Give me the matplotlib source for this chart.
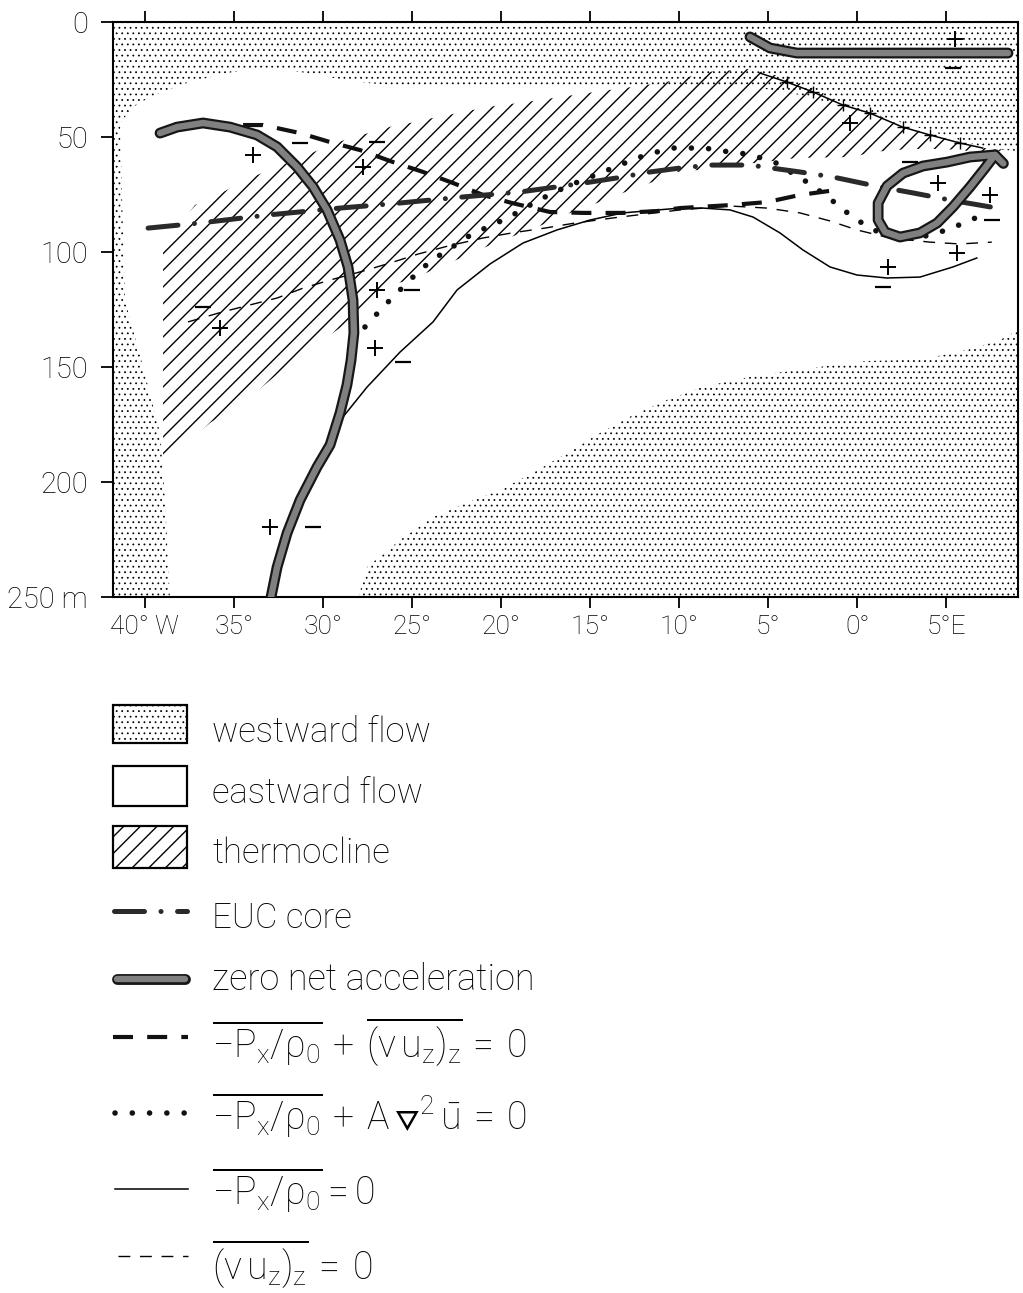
import numpy as np
import matplotlib
matplotlib.use("Agg")
import matplotlib.pyplot as plt
from matplotlib.patches import Polygon, Rectangle

plt.rcParams['font.family'] = ['Roboto', 'DejaVu Sans']
plt.rcParams['font.weight'] = 'light'
plt.rcParams['mathtext.fontset'] = 'custom'
plt.rcParams['mathtext.rm'] = 'Roboto:light'
plt.rcParams['mathtext.it'] = 'Roboto:light'
plt.rcParams['mathtext.sf'] = 'STIXGeneral'
plt.rcParams['mathtext.default'] = 'regular'
plt.rcParams['mathtext.fallback'] = 'stixsans'
plt.rcParams['hatch.linewidth'] = 1.0
plt.rcParams['hatch.color'] = 'black'

# axis ticks
x_ticks = [-40, -35, -30, -25, -20, -15, -10, -5, 0, 5]
x_labels = ["40° W", "35°", "30°", "25°", "20°", "15°", "10°", "5°", "0°", "5°E"]
y_ticks = [0, 50, 100, 150, 200, 250]
y_labels = ["0", "50", "100", "150", "200", "250 m"]

# westward flow, upper band + western strip (lon in deg, west negative; depth in m)
west_up_lon = [-42, 9.5, 9.5, 7.16, 5.2, 2.39, -0.41, -3.22, -5.46, -8.83, -14.44,
               -18.93, -23.81, -25.66, -27.51, -29.42, -31.27, -33.13, -35.03, -36.49,
               -37.62, -38.74, -39.69, -40.65, -41.37, -41.26, -41.1, -40.08, -39.13,
               -38.85, -38.57, -42]
west_up_dep = [-2, -2, 56.5, 54.8, 50.0, 43.5, 37.4, 31.7, 28.7, 28.7, 28.7,
               28.7, 28.3, 27.8, 26.5, 24.3, 21.7, 20.0, 21.7, 24.3,
               26.5, 29.6, 32.6, 37.0, 43.9, 77.4, 121, 150, 178.7,
               207.8, 252, 252]

# westward flow, deep eastern part
west_lo_lon = [-28.07, -27.51, -25.66, -23.81, -21.9, -20.05, -18.2, -16.29, -14.44,
               -12.59, -10.68, -8.83, -6.98, -5.07, -3.22, -1.37, 0.54, 2.39, 4.24,
               6.15, 8.0, 9.5, 9.5]
west_lo_dep = [252, 237, 225.2, 215.2, 209, 203.5, 196, 187.4, 178.7,
               170.9, 164.3, 159.1, 155.7, 153, 151.3, 149.1, 147.4, 147, 145.7,
               142.6, 138.3, 132, 252]

# thermocline
thermo_lon = [-38.96, -38.96, -37.17, -35.59, -34.08, -32.56, -31.27, -29.98, -28.47,
              -27.18, -26.05, -24.82, -23.59, -22.41, -21.29, -20.05, -18.93, -16.68,
              -14.33, -12.19, -10.06, -8.44, -6.02, -4.17, -2.65, -0.8, 0.71, 2.56,
              4.08, 5.76, 7.16, 8.56,
              7.05, 4.81, 2.96, 0.88, -0.24, -3.39, -5.63, -7.71, -8.83, -10.12,
              -11.63, -13.15, -14.61, -15.73, -17.41, -20.61, -22.13, -23.59, -25.1,
              -26.22, -27.18, -29.03, -31.39, -34.08, -36.32]
thermo_dep = [191.7, 97.0, 79.6, 73.9, 67.8, 63.0, 59.1, 54.8, 50.4,
              47.8, 45.2, 43.5, 41.3, 39.6, 37.8, 36.1, 35.2, 32.6,
              30.0, 27.8, 25.2, 21.7, 20.4, 23.9, 28.3, 35.2, 39.1, 45.2,
              48.7, 52.2, 54.8, 55.7,
              56.5, 55.2, 55.2, 56.5, 58.7, 59.1, 61.3, 61.7, 64.3, 65.2,
              70.0, 74.3, 78.7, 81.7, 87.4, 97.0, 102.2, 107.0, 112.2,
              114.3, 122.2, 133.0, 145.7, 163.0, 174.3]

# zero net acceleration
zna_west_lon = [-39.13, -38.18, -36.72, -35.2, -33.69, -32.56, -31.44, -30.54, -29.76,
                -29.03, -28.58, -28.3, -28.25, -28.41, -28.64, -29.03, -29.59, -30.32,
                -31.27, -32.0, -32.56, -32.9]
zna_west_dep = [48.3, 45.7, 43.9, 45.7, 49.1, 54.3, 63.0, 71.7, 81.7,
                94.8, 106.5, 120.9, 135.2, 147.0, 157.8, 170.0, 183.9, 193.5,
                207.8, 222.2, 237.0, 250]
zna_top_lon = [-6.02, -4.9, -3.39, -1.14, 2.56, 8.46]
zna_top_dep = [6.5, 11.3, 13.5, 13.5, 13.5, 13.5]
zna_loop_lon = [7.73, 6.33, 5.04, 3.69, 2.57, 1.67, 1.17, 1.17, 1.56, 2.4, 3.52, 4.48,
                5.37, 6.33, 7.17, 7.73, 8.2]
zna_loop_dep = [57.8, 58.7, 60.9, 62.6, 65.7, 71.3, 78.7, 86.1, 91.3, 93.5, 91.7, 87.4,
                80.4, 71.7, 63.5, 57.8, 61.5]

# EUC core
euc_lon = [-39.8, -36.89, -33.07, -29.03, -26.22, -22.18, -18.93, -15.67, -13.49,
           -11.63, -9.95, -8.27, -6.02, -3.22, -1.37, 1.27, 3.12, 5.2, 7.84]
euc_dep = [89.6, 87.4, 83.9, 80.9, 79.1, 76.1, 73.9, 70.4, 67.8,
           65.2, 63.5, 62.2, 62.2, 65.2, 67.4, 71.7, 74.3, 77.4, 80.9]

# -Px/rho0 + (nu u_z)_z = 0
pv_lon = [-34.47, -33.35, -31.27, -29.59, -27.9, -26.05, -24.37, -22.69, -21.0,
          -19.38, -17.25, -15.39, -13.15, -11.24, -9.95, -7.14, -5.07, -3.22, -1.14]
pv_dep = [44.8, 44.8, 48.3, 52.2, 55.7, 60.9, 65.2, 70.0, 75.2,
          78.7, 82.6, 83.0, 83.0, 82.2, 80.9, 79.6, 78.3, 75.2, 73.0]

# -Px/rho0 + A lap u = 0
ph_lon = [-27.63, -27.07, -26.39, -25.66, -24.99, -24.26, -23.42, -22.46, -21.62,
          -20.72, -19.77, -18.93, -17.97, -17.19, -16.24, -14.27, -13.32, -12.36,
          -11.24, -10.34, -9.39, -8.55, -7.54, -6.53, -5.57, -4.56, -3.95, -2.54,
          -1.08, -0.41, 0.27, 1.56, 3.24, 5.04, 6.38, 7.45]
ph_dep = [132.6, 127.8, 122.2, 116.5, 111.3, 106.1, 101.3, 96.5, 92.2,
          89.1, 85.7, 82.2, 77.8, 74.8, 71.3, 65.2, 62.2, 59.1,
          56.5, 54.8, 54.8, 54.8, 56.1, 57.0, 58.7, 61.3, 64.3, 70.9,
          79.6, 83.9, 87.4, 93.0, 94.3, 90.4, 86.1, 82.2]

# -Px/rho0 = 0 (lower branch and upper branch)
p_lon = [-28.86, -27.51, -25.66, -23.81, -22.46, -20.61, -18.76, -16.85, -15.0,
         -13.15, -9.95, -8.66, -7.14, -5.85, -4.34, -3.05, -1.53, -0.02, 1.66,
         3.52, 5.37, 6.71]
p_dep = [171.7, 158.7, 143.5, 130.4, 116.5, 105.2, 96.1, 90.4, 86.1,
         83.0, 80.9, 80.9, 81.7, 84.8, 91.7, 99.1, 106.5, 110.0, 111.3,
         110.9, 106.5, 102.6]
p_top_lon = [-5.46, -3.95, -2.49, -0.81, 0.7, 2.55, 4.07, 5.75, 7.04]
p_top_dep = [22.2, 26.1, 30.4, 36.1, 39.6, 45.7, 49.1, 52.6, 54.8]

# (nu u_z)_z = 0
v_lon = [-37.56, -35.65, -34.08, -32.56, -31.1, -29.59, -27.74, -26.22, -24.65,
         -22.97, -21.0, -19.38, -17.53, -15.84, -13.32, -9.95, -7.14, -5.07, -3.22,
         -1.53, -0.02, 1.83, 4.07, 5.75, 7.55]
v_dep = [130.4, 126.1, 123.0, 120.0, 115.7, 112.2, 108.3, 104.8, 100.9,
         97.4, 93.9, 91.7, 89.6, 87.4, 84.8, 81.7, 80.0, 80.9, 83.0,
         86.5, 90.4, 93.9, 95.7, 96.5, 95.7]

# sign annotations
plus_lon = [-33.91, -35.76, -27.74, -26.95, -27.07, -32.96, 5.48, -0.41, 4.53, 7.45, 5.6, 1.72]
plus_dep = [57.8, 133.0, 63.0, 116.5, 141.7, 219.6, 7.4, 43.9, 70.0, 75.2, 100.4, 106.5]
minus_lon = [-31.27, -26.95, -36.72, -24.99, -25.49, -30.54, 5.37, 2.96, 7.56, 1.44]
minus_dep = [52.6, 52.2, 123.9, 116.5, 147.8, 219.6, 20.0, 60.9, 86.1, 115.2]


def zero_acc(ax, x, y, z=6):
    ax.plot(x, y, color='#161616', lw=7.8, solid_capstyle='round',
            solid_joinstyle='round', zorder=z)
    ax.plot(x, y, color='#808080', lw=4.6, solid_capstyle='round',
            solid_joinstyle='round', zorder=z + 0.1)


def stipple(ax, xy):
    # fine stipple: small hatch linewidth only for these patches
    with plt.rc_context({'hatch.linewidth': 0.55}):
        p = Polygon(xy, closed=True, facecolor='white', edgecolor='black',
                    lw=0, hatch='...', zorder=1)
    try:
        p.set_hatch_linewidth(0.55)
    except AttributeError:
        pass
    ax.add_patch(p)
    return p


EUC_STYLE = dict(color='#2a2a2a', lw=3.6, linestyle=(0, (6, 3.3, 0.01, 3.3)),
                 dash_capstyle='round')
PV_STYLE = dict(color='#111111', lw=3.0, linestyle=(0, (4.8, 3.4)), dash_capstyle='butt')
PH_STYLE = dict(color='#111111', lw=4.0, linestyle=(0, (0.01, 3.1)), dash_capstyle='round')
P_STYLE = dict(color='black', lw=1.1)
V_STYLE = dict(color='black', lw=1.0, linestyle=(0, (8.5, 7)))

fig = plt.figure(figsize=(10.23, 12.93), dpi=100)
ax = fig.add_axes([0.11046, 0.53828, 0.88465, 0.44470])

stipple(ax, np.column_stack([west_up_lon, west_up_dep]))
stipple(ax, np.column_stack([west_lo_lon, west_lo_dep]))
ax.add_patch(Polygon(np.column_stack([thermo_lon, thermo_dep]), closed=True,
                     facecolor='none', edgecolor='black', lw=0, hatch='//', zorder=2))

ax.plot(p_lon, p_dep, zorder=3, **P_STYLE)
ax.plot(p_top_lon, p_top_dep, marker='+', ms=8, mew=1.0, markevery=slice(1, -1),
        zorder=3, **P_STYLE)
ax.plot(v_lon, v_dep, zorder=3, **V_STYLE)
ax.plot(pv_lon, pv_dep, zorder=4, **PV_STYLE)
ax.plot(ph_lon, ph_dep, zorder=4, **PH_STYLE)
ax.plot(euc_lon, euc_dep, zorder=5, **EUC_STYLE)

zero_acc(ax, zna_west_lon, zna_west_dep)
zero_acc(ax, zna_top_lon, zna_top_dep)
zero_acc(ax, zna_loop_lon, zna_loop_dep)

ax.plot(plus_lon, plus_dep, linestyle='none', marker='+', ms=11, mew=1.4,
        color='black', zorder=7)
ax.plot(minus_lon, minus_dep, linestyle='none', marker='_', ms=11, mew=1.6,
        color='black', zorder=7)

ax.set_xlim(-41.77, 9.02)
ax.set_ylim(250, 0)
ax.set_xticks(x_ticks)
ax.set_xticklabels(x_labels)
ax.set_yticks(y_ticks)
ax.set_yticklabels(y_labels)
ax.tick_params(axis='x', which='major', top=True, bottom=True, direction='out',
               length=8, width=1.3, labelsize=19, pad=5)
ax.tick_params(axis='y', which='major', left=True, right=False, direction='out',
               length=9, width=1.3, labelsize=21, pad=9)
for sp in ax.spines.values():
    sp.set_linewidth(1.5)

# legend drawn in pixel coordinates
lax = fig.add_axes([0, 0, 1, 1])
lax.set_xlim(0, 1023)
lax.set_ylim(1293, 0)
lax.axis('off')

stipple(lax, [(113, 705), (187, 705), (187, 743), (113, 743)])
lax.add_patch(Rectangle((113, 705), 74, 38, facecolor='none', edgecolor='black', lw=1.6))
lax.add_patch(Rectangle((113, 766), 74, 40, facecolor='white', edgecolor='black', lw=1.6))
lax.add_patch(Rectangle((113, 826), 74, 42, facecolor='white', edgecolor='black',
                        lw=1.6, hatch='//'))
lax.plot([114, 187], [911, 911], **EUC_STYLE)
zero_acc(lax, [117, 185], [979, 979])
lax.plot([113, 188], [1037, 1037], **PV_STYLE)
lax.plot([115, 188], [1113, 1113], **PH_STYLE)
lax.plot([115, 188], [1189, 1189], **P_STYLE)
lax.plot([118, 188], [1256, 1256], **V_STYLE)

fs = 25
fe = 27
lax.text(212, 742, "westward flow", fontsize=fs, va='baseline')
lax.text(212, 803, "eastward flow", fontsize=fs, va='baseline')
lax.text(212, 863, "thermocline", fontsize=fs, va='baseline')
lax.text(212, 928, "EUC core", fontsize=fs, va='baseline')
lax.text(212, 990, "zero net acceleration", fontsize=fs + 1, va='baseline')
lax.text(212, 1058, r"$\overline{-P_{x}/\rho_{0}}\,+\,\overline{(\nu\,u_{z})_{z}}\,=\,0$",
         fontsize=fe, va='baseline')
lax.text(212, 1130, r"$\overline{-P_{x}/\rho_{0}}\,+\,A\,{\triangledown}^{2}\,\bar{u}\,=\,0$",
         fontsize=fe, va='baseline')
lax.text(212, 1205, r"$\overline{-P_{x}/\rho_{0}}=0$", fontsize=fe, va='baseline')
lax.text(212, 1280, r"$\overline{(\nu\,u_{z})_{z}}\,=\,0$", fontsize=fe, va='baseline')

fig.savefig("out.png", dpi=100)
